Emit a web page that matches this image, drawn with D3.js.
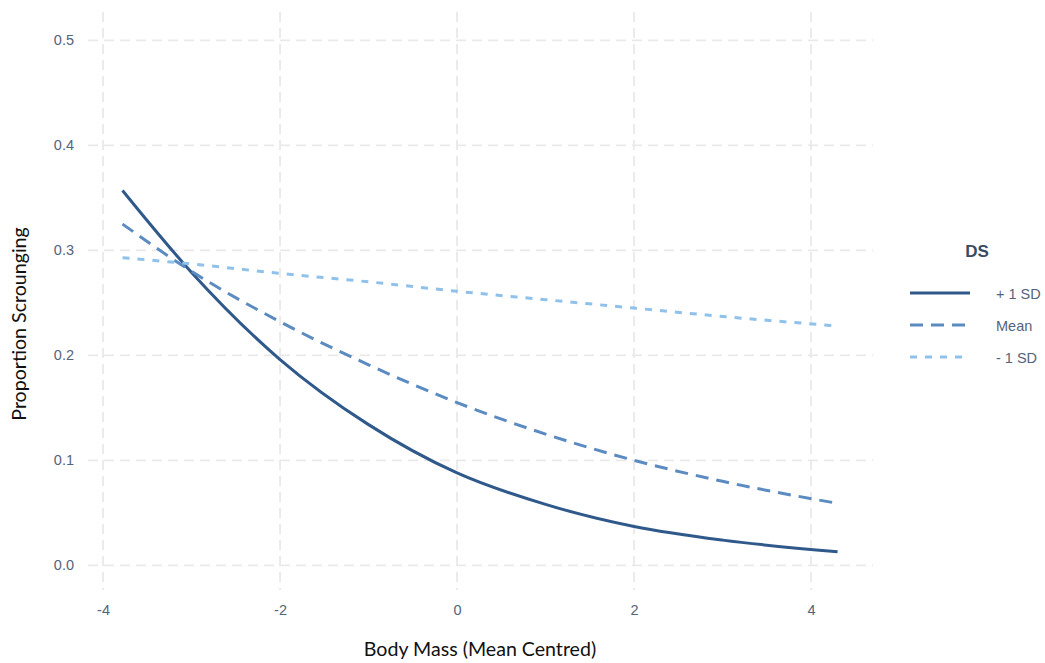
<!DOCTYPE html>
<html>
<head>
<meta charset="utf-8">
<script src="https://cdn.jsdelivr.net/npm/d3@7"></script>
<style>
  body { margin: 0; background: #fff; }
</style>
</head>
<body>
<div id="chart"></div>
<script>
// Data
const bodyMass = [-3.78, -3, -2, -1, 0, 1, 2, 3, 4.3];
const plusOneSD = [0.357, 0.279, 0.196, 0.134, 0.088, 0.058, 0.037, 0.024, 0.013];
const meanDS = [0.325, 0.280, 0.232, 0.191, 0.155, 0.125, 0.100, 0.080, 0.059];
const minusOneSD = [0.293, 0.287, 0.278, 0.270, 0.261, 0.253, 0.245, 0.237, 0.228];
const seriesNames = ["+ 1 SD", "Mean", "- 1 SD"];
const xTicks = [-4, -2, 0, 2, 4];
const yTicks = [0, 0.1, 0.2, 0.3, 0.4, 0.5];

const series = [
  { key: seriesNames[0], values: plusOneSD, color: "#30598b", dash: null },
  { key: seriesNames[1], values: meanDS, color: "#5b8bc0", dash: "13,8" },
  { key: seriesNames[2], values: minusOneSD, color: "#8fc1ea", dash: "7,8" }
];

const W = 1045, H = 663;
const panel = { left: 88, right: 873, top: 12, bottom: 590 };

const svg = d3.select("#chart")
  .append("svg")
    .attr("width", W)
    .attr("height", H);

// Scales (ggplot-like 5% expansion)
const x = d3.scaleLinear().domain([-4.17, 4.70]).range([panel.left, panel.right]);
const y = d3.scaleLinear().domain([-0.0235, 0.527]).range([panel.bottom, panel.top]);

// Grid
const grid = svg.append("g").attr("class", "grid")
  .attr("stroke", "#e9e9e9")
  .attr("stroke-width", 1.8)
  .attr("stroke-dasharray", "10,6");

grid.selectAll(".gx")
  .data(xTicks)
  .enter().append("line")
    .attr("x1", d => x(d)).attr("x2", d => x(d))
    .attr("y1", panel.top).attr("y2", panel.bottom);

grid.selectAll(".gy")
  .data(yTicks)
  .enter().append("line")
    .attr("y1", d => y(d)).attr("y2", d => y(d))
    .attr("x1", panel.left).attr("x2", panel.right);

// Axes (labels only, like theme_minimal)
const xAxis = svg.append("g")
  .attr("transform", `translate(0, ${panel.bottom})`)
  .call(d3.axisBottom(x).tickValues(xTicks).tickSize(0).tickPadding(15).tickFormat(d => String(d)));
const yAxis = svg.append("g")
  .attr("transform", `translate(${panel.left}, 0)`)
  .call(d3.axisLeft(y).tickValues(yTicks).tickSize(0).tickPadding(14).tickFormat(d3.format(".1f")));

[xAxis, yAxis].forEach(a => {
  a.select(".domain").remove();
  a.selectAll("text")
    .attr("fill", "#55647a")
    .style("font-family", "'Liberation Sans', Arial, sans-serif")
    .style("font-size", "14.5px");
});

// Lines
const line = d3.line()
  .x((d, i) => x(bodyMass[i]))
  .y(d => y(d))
  .curve(d3.curveMonotoneX);

svg.selectAll(".series")
  .data(series)
  .enter().append("path")
    .attr("class", "series")
    .attr("fill", "none")
    .attr("stroke", d => d.color)
    .attr("stroke-width", 3)
    .attr("stroke-dasharray", d => d.dash)
    .attr("d", d => line(d.values));

// Axis titles
svg.append("text")
  .attr("x", 480)
  .attr("y", 656)
  .attr("text-anchor", "middle")
  .style("font-family", "Lato, 'Open Sans', sans-serif")
  .style("font-size", "19.6px")
  .attr("fill", "#111")
  .text("Body Mass (Mean Centred)");

svg.append("text")
  .attr("transform", `translate(26, 324) rotate(-90)`)
  .attr("text-anchor", "middle")
  .style("font-family", "Lato, 'Open Sans', sans-serif")
  .style("font-size", "19.6px")
  .attr("fill", "#111")
  .text("Proportion Scrounging");

// Legend
const legend = svg.append("g").attr("transform", "translate(910, 0)");
legend.append("text")
  .attr("x", 67).attr("y", 257)
  .attr("text-anchor", "middle")
  .style("font-family", "'Liberation Sans', Arial, sans-serif")
  .style("font-size", "17px")
  .style("font-weight", "bold")
  .attr("fill", "#3a4b60")
  .text("DS");

const items = legend.selectAll(".item")
  .data(series)
  .enter().append("g")
    .attr("class", "item")
    .attr("transform", (d, i) => `translate(0, ${293 + i * 32})`);

items.append("line")
  .attr("x1", 0).attr("x2", 60)
  .attr("stroke", d => d.color)
  .attr("stroke-width", 3)
  .attr("stroke-dasharray", d => d.dash);

items.append("text")
  .attr("x", 86).attr("y", 5.5)
  .style("font-family", "'Liberation Sans', Arial, sans-serif")
  .style("font-size", "14.5px")
  .attr("fill", "#55647a")
  .text(d => d.key);
</script>
</body>
</html>
